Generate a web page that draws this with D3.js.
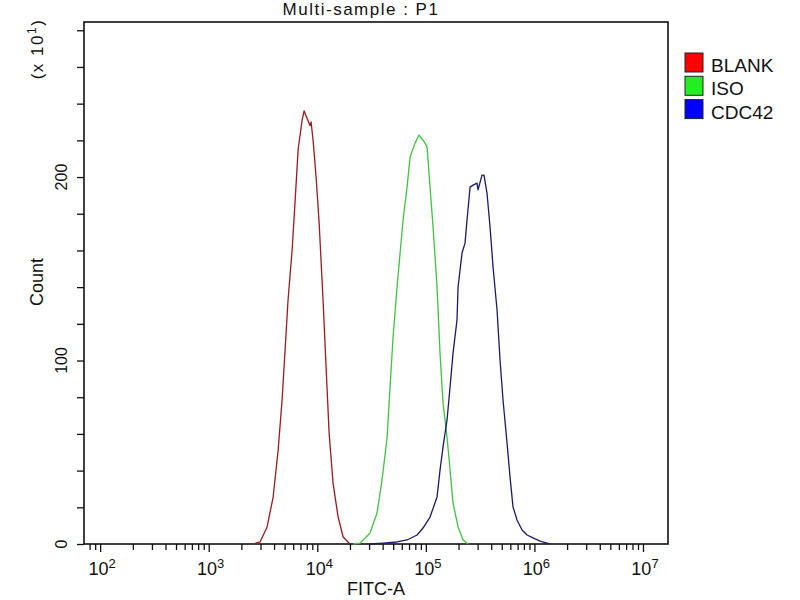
<!DOCTYPE html>
<html>
<head>
<meta charset="utf-8">
<script src="https://cdn.jsdelivr.net/npm/d3@7"></script>
<style>
  body { margin: 0; background: #fff; }
  text { font-family: Arial, "Liberation Sans", sans-serif; fill: #111; }
</style>
</head>
<body>
<div id="chart-area"></div>
<script>
// histogram outlines: FITC-A value and count (x10)
const blankFitc = [2570, 2970, 3450, 3920, 4360, 4740, 5050, 5380, 5860, 6250, 6660, 7250, 7560, 8050, 8580, 8770, 9150, 9750, 10400, 11300, 12050, 12850, 13970, 15550, 17300, 20000]
const blankCount = [0, 1.1, 9.3, 25.6, 51.2, 78.5, 105.7, 133, 160, 187, 215, 231, 236, 232, 228, 230, 220, 200, 175, 133, 96.5, 60.5, 33.2, 14.7, 3.8, 0]

const isoFitc = [21400, 24800, 30600, 35500, 39500, 44000, 46800, 49900, 54300, 57900, 61700, 67100, 71600, 79600, 86600, 98300, 102600, 109300, 116500, 126800, 135100, 144000, 156700, 167100, 178000, 198000, 220300, 245000]
const isoCount = [0, 0.5, 6, 16.9, 34.9, 58.3, 85.6, 112.8, 140, 158.6, 176.6, 194.5, 210.9, 218.5, 222.9, 218.5, 216.3, 194.5, 172.8, 140, 104, 76.8, 58.3, 40.3, 22.3, 9.3, 2.2, 0]

const cdcFitc = [30600, 40400, 54300, 67100, 83000, 94200, 109300, 126800, 135100, 144000, 156700, 167100, 178000, 193600, 198000, 215400, 229600, 239500, 255500, 272300, 296000, 302600, 329000, 343400, 366200, 390200, 415800, 452800, 482300, 513900, 559700, 596100, 635100, 691700, 769300, 855400, 971000, 1127000, 1307000, 1394000]
const cdcCount = [0, 0.5, 1.1, 2.2, 4.9, 8.7, 14.7, 25.6, 40.3, 52.9, 67.6, 85.6, 104, 122, 140, 158.6, 164, 176.6, 194.5, 195.6, 196.7, 193, 201, 201, 191, 172.8, 151, 127.5, 100.3, 78.5, 55, 36.5, 20.2, 13.1, 7.6, 4.9, 3.3, 1.6, 0.5, 0]

const seriesNames = ["BLANK", "ISO", "CDC42"]
const seriesColors = ["#9c1a1c", "#3fc43f", "#1a1a6a"]
const legendColors = ["#ff0000", "#22ee22", "#0000ff"]
const yTicks = [0, 100, 200]
const xDecades = [2, 3, 4, 5, 6, 7]

const MARGIN = { LEFT: 84, RIGHT: 132, TOP: 22, BOTTOM: 56 }
const WIDTH = 800 - MARGIN.LEFT - MARGIN.RIGHT
const HEIGHT = 600 - MARGIN.TOP - MARGIN.BOTTOM

const svg = d3.select("#chart-area").append("svg")
  .attr("width", 800)
  .attr("height", 600)

const g = svg.append("g")
  .attr("transform", `translate(${MARGIN.LEFT}, ${MARGIN.TOP})`)

// scales
const x = d3.scaleLog().domain([71, 1.7e7]).range([0, WIDTH])
const y = d3.scaleLinear().domain([0, 284.5]).range([HEIGHT, 0])

// minor log ticks (2..9 of each decade) + majors
const xMinor = []
for (let e = 1; e <= 7; e++) {
  for (let m = 2; m <= 9; m++) {
    const v = m * Math.pow(10, e)
    if (v >= x.domain()[0] && v <= x.domain()[1]) xMinor.push(v)
  }
}
const xMajor = xDecades.map(e => Math.pow(10, e))

// x axis ticks
const xAxis = g.append("g").attr("transform", `translate(0, ${HEIGHT})`)
xAxis.call(d3.axisBottom(x).tickValues(xMinor).tickSize(6).tickFormat(""))
xAxis.append("g").call(d3.axisBottom(x).tickValues(xMajor).tickSize(8).tickFormat(""))
xAxis.selectAll(".domain").remove()
xAxis.selectAll("line").attr("stroke", "#111").attr("stroke-width", 1.3)

// x tick labels with superscript exponent
xDecades.forEach(e => {
  const t = g.append("text")
    .attr("x", x(Math.pow(10, e)) + 2)
    .attr("y", HEIGHT + 31)
    .attr("text-anchor", "middle")
    .attr("font-size", "18px")
  t.append("tspan").text("10")
  t.append("tspan").attr("dy", "-7").attr("font-size", "13px").text(e)
})

// y axis ticks
const yAxis = g.append("g")
yAxis.call(d3.axisLeft(y).tickValues(d3.range(0, 281, 20)).tickSize(7).tickFormat(""))
yAxis.selectAll(".domain").remove()
yAxis.selectAll("line").attr("stroke", "#111").attr("stroke-width", 1.3)

yTicks.forEach(v => {
  g.append("text")
    .attr("transform", `translate(-17, ${y(v)}) rotate(-90)`)
    .attr("text-anchor", "middle")
    .attr("font-size", "16px")
    .text(v)
})

// frame
g.append("rect")
  .attr("width", WIDTH)
  .attr("height", HEIGHT)
  .attr("fill", "none")
  .attr("stroke", "#111")
  .attr("stroke-width", 1.6)

// histogram outlines
const line = d3.line()
  .x(d => x(d[0]))
  .y(d => y(d[1]))

const series = [
  d3.zip(blankFitc, blankCount),
  d3.zip(isoFitc, isoCount),
  d3.zip(cdcFitc, cdcCount)
]

series.forEach((s, i) => {
  g.append("path")
    .attr("fill", "none")
    .attr("stroke", seriesColors[i])
    .attr("stroke-width", 1.3)
    .attr("stroke-linejoin", "round")
    .attr("d", line(s))
})

// legend
const legend = svg.append("g").attr("transform", "translate(685, 53)")
seriesNames.forEach((name, i) => {
  legend.append("rect")
    .attr("x", 0)
    .attr("y", i * 23.3)
    .attr("width", 18)
    .attr("height", 19)
    .attr("fill", legendColors[i])
    .attr("stroke", "#222")
    .attr("stroke-width", 1)
  legend.append("text")
    .attr("x", 26)
    .attr("y", i * 23.3 + 19)
    .attr("font-size", "19px")
    .text(name)
})

// title and axis labels
svg.append("text")
  .attr("x", 361)
  .attr("y", 15)
  .attr("text-anchor", "middle")
  .attr("font-size", "17px")
  .attr("letter-spacing", "1.5")
  .text("Multi-sample : P1")

svg.append("text")
  .attr("x", 376)
  .attr("y", 595)
  .attr("text-anchor", "middle")
  .attr("font-size", "18px")
  .text("FITC-A")

svg.append("text")
  .attr("transform", "translate(43, 282) rotate(-90)")
  .attr("text-anchor", "middle")
  .attr("font-size", "18px")
  .text("Count")

const mult = svg.append("text")
  .attr("transform", "translate(43, 49) rotate(-90)")
  .attr("text-anchor", "middle")
  .attr("font-size", "17px")
  .attr("letter-spacing", "1.5")
mult.append("tspan").text("(x 10")
mult.append("tspan").attr("dy", "-7").attr("font-size", "12px").text("1")
mult.append("tspan").attr("dy", "7").text(")")
</script>
</body>
</html>
